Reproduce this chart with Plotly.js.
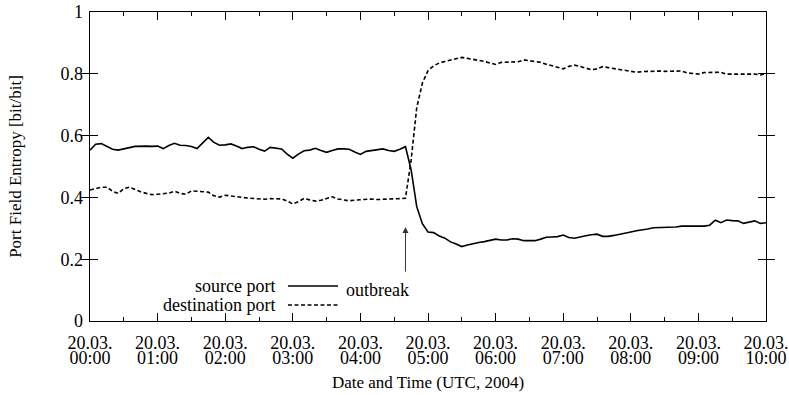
<!DOCTYPE html>
<html>
<head>
<meta charset="utf-8">
<script src="https://cdn.plot.ly/plotly-3.0.1.min.js"></script>
<style>html,body{margin:0;padding:0;background:#fff;}#chart{width:789px;height:395px;}</style>
</head>
<body>
<div id="chart"></div>
<script>
const stepMinutes = 5;

const sourcePort = [
  0.553,0.572,0.574,0.565,0.556,0.553,0.558,0.561,0.565,0.566,
  0.566,0.565,0.566,0.558,0.568,0.575,0.569,0.568,0.565,0.558,
  0.575,0.594,0.578,0.569,0.570,0.573,0.566,0.558,0.562,0.564,
  0.556,0.550,0.562,0.559,0.557,0.540,0.527,0.540,0.551,0.553,
  0.559,0.552,0.546,0.552,0.557,0.557,0.556,0.547,0.539,0.549,
  0.552,0.553,0.557,0.552,0.549,0.556,0.564,0.490,0.370,0.315,
  0.288,0.286,0.275,0.268,0.256,0.249,0.241,0.246,0.251,0.254,
  0.257,0.261,0.265,0.262,0.262,0.266,0.265,0.260,0.259,0.260,
  0.265,0.271,0.272,0.273,0.278,0.270,0.268,0.273,0.276,0.279,
  0.281,0.274,0.274,0.277,0.280,0.283,0.288,0.292,0.294,0.298,
  0.302,0.302,0.302,0.302,0.304,0.307,0.307,0.308,0.308,0.307,
  0.310,0.326,0.318,0.327,0.325,0.324,0.316,0.320,0.324,0.316,
  0.318
];

const destinationPort = [
  0.424,0.428,0.433,0.433,0.420,0.413,0.428,0.433,0.425,0.418,
  0.413,0.409,0.410,0.411,0.414,0.420,0.413,0.410,0.421,0.420,
  0.419,0.417,0.405,0.401,0.407,0.404,0.402,0.400,0.398,0.397,
  0.396,0.394,0.396,0.395,0.395,0.388,0.379,0.386,0.397,0.392,
  0.388,0.391,0.397,0.402,0.395,0.391,0.389,0.391,0.393,0.395,
  0.395,0.393,0.394,0.393,0.394,0.395,0.397,0.520,0.690,0.770,
  0.810,0.826,0.835,0.840,0.845,0.849,0.853,0.850,0.847,0.844,
  0.840,0.835,0.830,0.837,0.837,0.838,0.839,0.845,0.843,0.840,
  0.837,0.831,0.826,0.820,0.816,0.824,0.828,0.824,0.818,0.813,
  0.816,0.823,0.820,0.817,0.813,0.809,0.806,0.805,0.807,0.808,
  0.809,0.809,0.808,0.809,0.810,0.809,0.803,0.800,0.799,0.804,
  0.805,0.805,0.805,0.799,0.799,0.799,0.799,0.798,0.799,0.796,
  0.801
];

const tickTimes = ["2004-03-20 00:00","2004-03-20 01:00","2004-03-20 02:00","2004-03-20 03:00",
  "2004-03-20 04:00","2004-03-20 05:00","2004-03-20 06:00","2004-03-20 07:00",
  "2004-03-20 08:00","2004-03-20 09:00","2004-03-20 10:00"];
const tickDates = ["20.03.","20.03.","20.03.","20.03.","20.03.","20.03.","20.03.","20.03.","20.03.","20.03.","20.03."];
const tickHours = ["00:00","01:00","02:00","03:00","04:00","05:00","06:00","07:00","08:00","09:00","10:00"];
const yTicks = [0, 0.2, 0.4, 0.6, 0.8, 1];
const outbreakTime = "2004-03-20 04:40";
const outbreakArrowTipY = 0.304;
const seriesNames = ["source port", "destination port"];

function pad(n){ return (n < 10 ? "0" : "") + n; }
function timeAt(i){
  const m = i * stepMinutes;
  return "2004-03-20 " + pad(Math.floor(m / 60)) + ":" + pad(m % 60);
}
const times = sourcePort.map((_, i) => timeAt(i));

const FONT = "'Times New Roman', 'Liberation Serif', 'DejaVu Serif', serif";
const xRange = ["2004-03-20 00:00", "2004-03-20 10:00"];

const traces = [
  {x: times, y: sourcePort, name: seriesNames[0], mode: "lines",
   line: {color: "#000", width: 1.6}, showlegend: false},
  {x: times, y: destinationPort, name: seriesNames[1], mode: "lines",
   line: {color: "#000", width: 1.6, dash: "4px,2.5px"}, showlegend: false},
  // empty carrier so the second (hour-label) x axis is drawn
  {x: xRange, y: [null, null], xaxis: "x2", yaxis: "y", mode: "lines", showlegend: false, hoverinfo: "skip"}
];

const L = 90, R = 766, T = 12, B = 321;
const px = v => (v - L) / (R - L);
const py = v => (B - v) / (B - T);

const layout = {
  width: 789, height: 395,
  margin: {l: 90, r: 23, t: 12, b: 74},
  paper_bgcolor: "#fff", plot_bgcolor: "#fff",
  font: {family: FONT, size: 18, color: "#000"},
  xaxis: {
    type: "date",
    range: xRange,
    tickmode: "array", tickvals: tickTimes, ticktext: tickDates,
    ticks: "inside", ticklen: 8, tickwidth: 1, tickcolor: "#000",
    showline: true, linecolor: "#000", linewidth: 1.3, mirror: "allticks",
    showgrid: false, zeroline: false,
    minor: {ticks: "inside", ticklen: 4, tickwidth: 1, tickcolor: "#000", dtick: 30 * 60 * 1000, showgrid: false},
    tickfont: {family: FONT, size: 18},
    ticklabelstandoff: 5
  },
  xaxis2: {
    type: "date",
    overlaying: "x", anchor: "y", side: "bottom",
    range: xRange,
    tickmode: "array", tickvals: tickTimes, ticktext: tickHours,
    ticks: "", showline: false, showgrid: false, zeroline: false,
    tickfont: {family: FONT, size: 18},
    ticklabelstandoff: 24,
    title: {text: "Date and Time (UTC, 2004)", font: {family: FONT, size: 17}, standoff: 9}
  },
  yaxis: {
    range: [0, 1],
    tickmode: "array", tickvals: yTicks,
    ticks: "inside", ticklen: 8, tickwidth: 1, tickcolor: "#000",
    showline: true, linecolor: "#000", linewidth: 1.3, mirror: "allticks",
    showgrid: false, zeroline: false,
    tickfont: {family: FONT, size: 18},
    ticklabelstandoff: 2,
    title: {text: "Port Field Entropy [bit/bit]", font: {family: FONT, size: 17}, standoff: 34}
  },
  shapes: [
    {type: "line", xref: "paper", yref: "paper", x0: px(288), x1: px(338), y0: py(286), y1: py(286),
     line: {color: "#000", width: 1.6}},
    {type: "line", xref: "paper", yref: "paper", x0: px(288), x1: px(338), y0: py(305), y1: py(305),
     line: {color: "#000", width: 1.6, dash: "4px,2.5px"}}
  ],
  annotations: [
    {xref: "paper", yref: "paper", x: px(277), y: py(286), text: seriesNames[0], showarrow: false,
     xanchor: "right", yanchor: "middle", font: {family: FONT, size: 18}},
    {xref: "paper", yref: "paper", x: px(277), y: py(305), text: seriesNames[1], showarrow: false,
     xanchor: "right", yanchor: "middle", font: {family: FONT, size: 18}},
    {xref: "paper", yref: "paper", x: px(377), y: py(290), text: "outbreak", showarrow: false,
     xanchor: "center", yanchor: "middle", font: {family: FONT, size: 18}},
    {x: outbreakTime, y: outbreakArrowTipY, xref: "x", yref: "y", text: "", showarrow: true,
     ax: 0, ay: 46, arrowhead: 2, arrowsize: 1.2, arrowwidth: 1, arrowcolor: "#333"}
  ]
};

Plotly.newPlot("chart", traces, layout, {displayModeBar: false, staticPlot: true});
</script>
</body>
</html>
